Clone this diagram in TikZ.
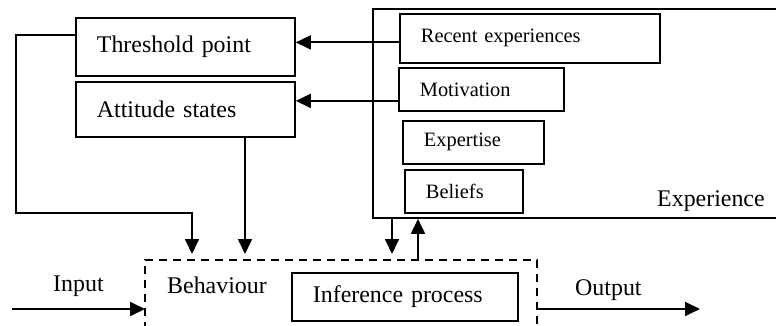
\documentclass[tikz,border=0pt]{standalone}
\usepackage{fontspec}
\setmainfont{Liberation Serif}
\usetikzlibrary{arrows.meta,positioning}

\tikzset{
  box/.style={draw, line width=1.8pt, inner xsep=21pt, inner ysep=0pt, anchor=north west, align=left, font=\fontsize{23.9}{28}\selectfont},
  smallbox/.style={box, font=\fontsize{20.4}{24}\selectfont},
  txt/.style={anchor=base west, inner sep=0pt, font=\fontsize{23.9}{28}\selectfont},
  link/.style={line width=1.8pt, -{Triangle[length=15pt,width=14pt]}},
}

\begin{document}
\begin{tikzpicture}[x=1pt, y=-1pt]
\useasboundingbox (0,0) rectangle (776,326);

% experience block
\node[draw, line width=1.8pt, inner sep=0pt, anchor=north west, minimum width=430pt, minimum height=209pt] (exper) at (372,8) {};
\node[smallbox, text width=218pt, minimum height=49pt] (recent) at (399,13) {Recent experiences};
\node[smallbox, text width=123pt, minimum height=43pt] (motiv) at (398,67) {Motivation};
\node[smallbox, text width=99pt, minimum height=43pt] (expert) at (402,120) {Expertise};
\node[smallbox, text width=76pt, minimum height=43pt] (belief) at (404,169) {Beliefs};
\node[txt] (expertxt) at (657,206) {Experience};

\node[box, text width=177pt, minimum height=58pt] (thresh) at (75,17) {Threshold point};
\node[box, text width=177pt, minimum height=55pt] (attit) at (75,81) {Attitude states};

% behaviour block
\coordinate (dashtl) at (145,260);
\coordinate (dashtr) at (537,260);
\draw[line width=1.5pt, dash pattern=on 8pt off 6pt] (145,330) -- (dashtl) -- (dashtr) -- (537,330);
\node[txt] (behav) at (167,293) {Behaviour};
\node[box, text width=184pt, minimum height=48pt] (infer) at (291,272) {Inference process};

\node[txt] (input) at (53,291) {Input};
\node[txt] (output) at (575,295) {Output};

\coordinate (in1) at (192,254);
\coordinate (in2) at (245,254);
\coordinate (in3) at (392,254);
\coordinate (out3) at (418,260);
\coordinate (inputstart) at (12,309);
\coordinate (outputend) at (700,309);

\draw[link] ([yshift=-4pt]recent.west) -- ([yshift=-4pt]recent.west -| thresh.east);
\draw[link] ([yshift=-11.5pt]motiv.west) -- ([yshift=-11.5pt]motiv.west -| attit.east);

\draw[link] ([yshift=12pt]thresh.west) -- ++(-59,0) |- ([yshift=41pt]in1) -- (in1);
\draw[link] (attit.south -| in2) -- (in2);
\draw[link] (exper.south -| in3) -- (in3);
\draw[link] (out3) -- (exper.south -| out3);

\draw[link] (inputstart) -- (inputstart -| dashtl);
\draw[link] (outputend -| dashtr) -- (outputend);

\end{tikzpicture}
\end{document}
